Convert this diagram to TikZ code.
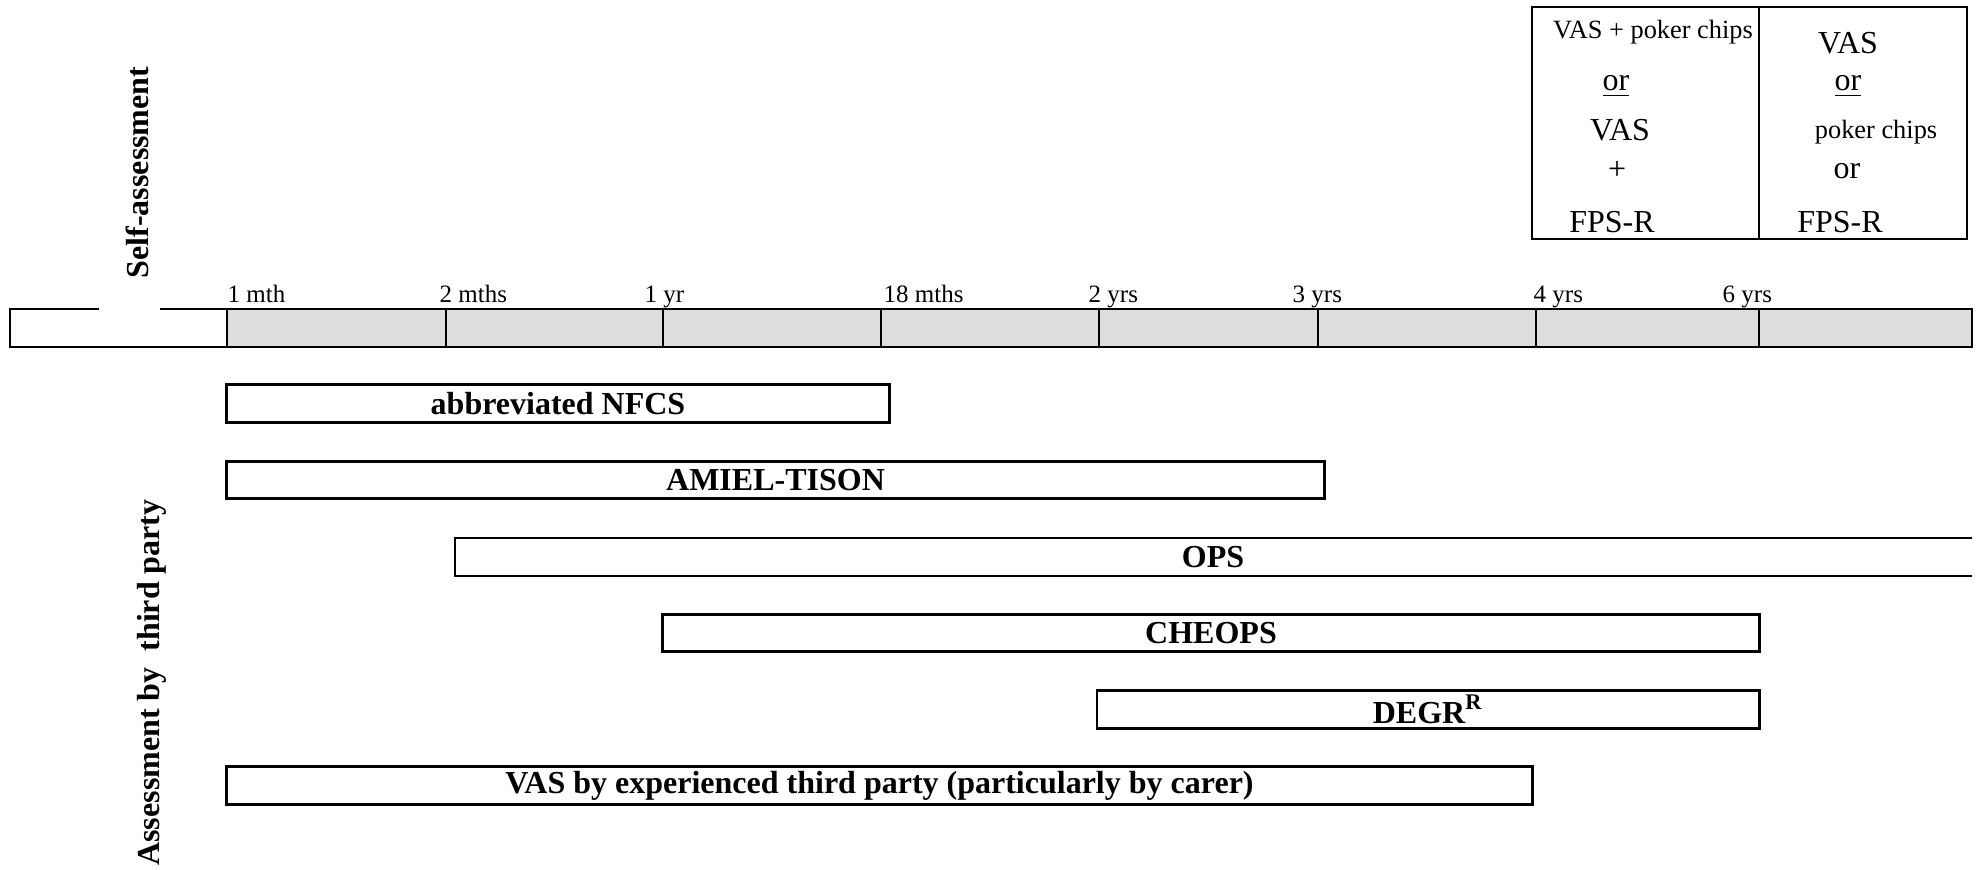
\documentclass[tikz,border=0pt]{standalone}
\usepackage{fontspec}
\setmainfont{Liberation Serif}
\usetikzlibrary{positioning}
\definecolor{cellfill}{HTML}{DDDDDD}

\begin{document}
\begin{tikzpicture}[x=0.01cm, y=-0.01cm,
  frame/.style={draw=black, line width=0.75pt},
  cell/.style={draw=black, line width=0.75pt, fill=cellfill},
  bar/.style={draw=black, line width=0.75pt, minimum height=0.375cm, inner sep=0pt, font=\fontsize{9.1}{11}\selectfont\bfseries},
  tick/.style={anchor=base west, inner sep=0pt, font=\fontsize{7.1}{9}\selectfont},
  side/.style={rotate=90, anchor=base, inner sep=0pt, font=\fontsize{9.1}{11}\selectfont\bfseries},
  big/.style={anchor=base, inner sep=0pt, font=\fontsize{9.1}{11}\selectfont},
  small/.style={anchor=base, inner sep=0pt, font=\fontsize{7.5}{9}\selectfont},
]
  \useasboundingbox (0,0) rectangle (1977,869);

  % self-assessment choices
  \draw[frame] (1532,7) rectangle (1967,239);
  \draw[frame] (1759,7) -- (1759,239);
  \node[small] (chipsa) at (1653,38) {VAS + poker chips};
  \node[big] (ora) at (1616,90) {\underline{or}};
  \node[big] (vasa) at (1620,140) {VAS};
  \node[big] (plusa) at (1617,179) {+};
  \node[big] (fpsa) at (1612,232) {FPS-R};
  \node[big] (vasb) at (1848,53) {VAS};
  \node[big] (orb) at (1848,90) {\underline{or}};
  \node[small] (chipsb) at (1876,138) {poker chips};
  \node[big] (orc) at (1847,178) {or};
  \node[big] (fpsb) at (1840,232) {FPS-R};

  % age axis
  \draw[frame] (99,309) -- (10,309) -- (10,347) -- (227,347);
  \draw[frame] (160,309) -- (227,309);
  \foreach \a/\b in {227/446, 446/663, 663/881, 881/1099, 1099/1318, 1318/1536, 1536/1759, 1759/1972}
    \draw[cell] (\a,309) rectangle (\b,347);
  \foreach \x/\lab in {227/1 mth, 439/2 mths, 644/1 yr, 883/18 mths, 1088/2 yrs, 1292/3 yrs, 1533/4 yrs, 1722/6 yrs}
    \node[tick] at (\x,302) {\lab};

  \node[side] (selflab) at (148,172.5) {Self-assessment};
  \node[side] (thirdlab) at (159,682.5) {Assessment by\ \ third party};

  % scales
  \node[bar, minimum width=6.62cm] (nfcs) at (558,403.5) {abbreviated NFCS};
  \node[bar, minimum width=10.97cm] (amiel) at (775.5,480) {AMIEL-TISON};
  \draw[frame] (1972,538) -- (455,538) -- (455,576) -- (1972,576);
  \node[inner sep=0pt, font=\fontsize{9.1}{11}\selectfont\bfseries] (ops) at (1213,557) {OPS};
  \node[bar, minimum width=10.96cm] (cheops) at (1211,633) {CHEOPS};
  \node[bar, minimum width=6.62cm] (degr) at (1428,709.5) {DEGR\textsuperscript{R}};
  \node[bar, minimum width=13.05cm] (vas) at (879.5,785.5) {VAS by experienced third party (particularly by carer)};
\end{tikzpicture}
\end{document}
